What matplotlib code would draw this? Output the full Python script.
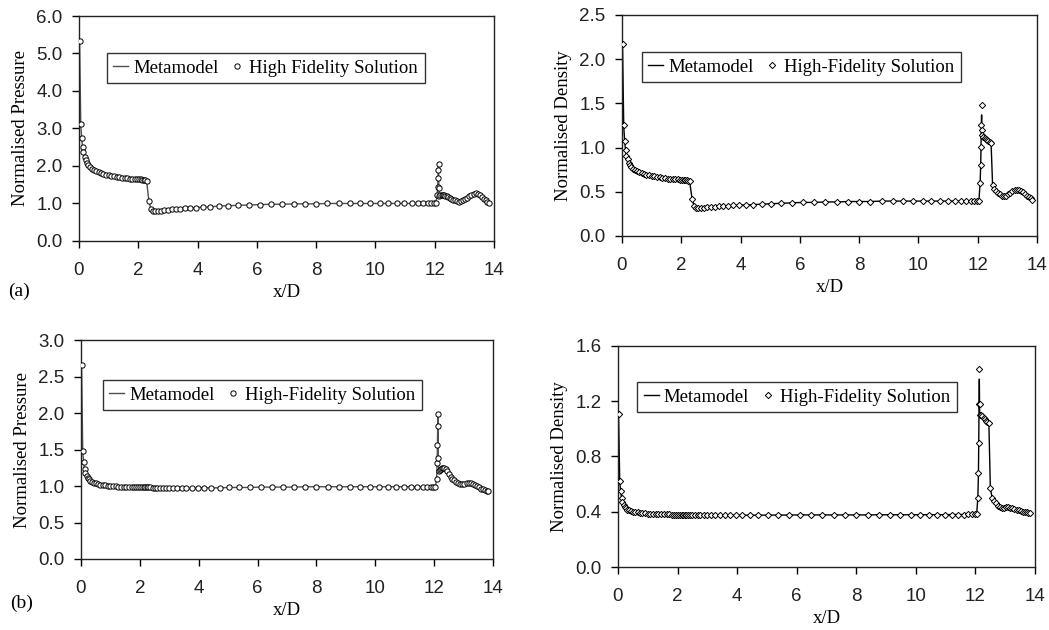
import matplotlib
matplotlib.use("Agg")
import matplotlib.pyplot as plt
import numpy as np
from matplotlib.ticker import FormatStrFormatter

# x/D stations (shared mesh for all four profiles)
xd = [0.02, 0.06, 0.09, 0.12, 0.15, 0.19, 0.23, 0.27, 0.32, 0.38,
      0.44, 0.51, 0.58, 0.66, 0.74, 0.82, 0.91, 1.00, 1.09, 1.18,
      1.27, 1.36, 1.45, 1.54, 1.63, 1.72, 1.80, 1.88, 1.95, 2.02,
      2.08, 2.14, 2.19, 2.24, 2.28,
      2.36, 2.43, 2.50, 2.58, 2.67, 2.77, 2.88, 3.00, 3.13, 3.27,
      3.42, 3.58, 3.76, 3.96, 4.18, 4.43, 4.71, 5.02, 5.36, 5.73,
      6.10, 6.48, 6.86, 7.24, 7.62, 8.00, 8.38, 8.76, 9.13, 9.48,
      9.82, 10.14, 10.44, 10.72, 10.98, 11.22, 11.43, 11.61, 11.76, 11.88,
      11.97, 12.04,
      12.08, 12.10, 12.11, 12.12, 12.13, 12.14, 12.16, 12.19, 12.23, 12.27,
      12.31, 12.35, 12.40, 12.45, 12.50, 12.56, 12.62, 12.68, 12.75, 12.82,
      12.89, 12.96, 13.03, 13.10, 13.17, 13.24, 13.31, 13.38, 13.45, 13.52,
      13.59, 13.66, 13.72, 13.78, 13.84]

# case (a) - pressure
pa_hf = [5.32, 3.12, 2.75, 2.50, 2.36, 2.25, 2.16, 2.09, 2.03, 1.97,
         1.93, 1.89, 1.86, 1.83, 1.80, 1.78, 1.76, 1.75, 1.73, 1.72,
         1.71, 1.70, 1.69, 1.68, 1.67, 1.66, 1.66, 1.65, 1.65, 1.64,
         1.64, 1.63, 1.63, 1.62, 1.61,
         1.06, 0.85, 0.80, 0.79, 0.80, 0.81, 0.82, 0.83, 0.84, 0.85,
         0.86, 0.87, 0.88, 0.89, 0.90, 0.91, 0.93, 0.94, 0.95, 0.96,
         0.97, 0.98, 0.98, 0.99, 0.99, 0.99, 1.00, 1.00, 1.00, 1.00,
         1.00, 1.00, 1.00, 1.00, 1.00, 1.00, 1.00, 1.00, 1.00, 1.00,
         1.00, 1.01,
         1.22, 1.45, 1.68, 1.90, 2.05, 1.40, 1.20, 1.22, 1.23, 1.23,
         1.22, 1.21, 1.19, 1.17, 1.15, 1.12, 1.10, 1.08, 1.06, 1.05,
         1.06, 1.08, 1.11, 1.15, 1.19, 1.23, 1.26, 1.27, 1.25, 1.22,
         1.18, 1.13, 1.08, 1.04, 1.00]
pa_mm = [5.30, 3.10, 2.74, 2.50, 2.36, 2.25, 2.16, 2.09, 2.03, 1.97,
         1.93, 1.89, 1.86, 1.83, 1.80, 1.78, 1.76, 1.75, 1.73, 1.72,
         1.71, 1.70, 1.69, 1.68, 1.67, 1.66, 1.66, 1.65, 1.65, 1.64,
         1.64, 1.63, 1.63, 1.62, 1.61,
         1.05, 0.85, 0.80, 0.79, 0.80, 0.81, 0.82, 0.83, 0.84, 0.85,
         0.86, 0.87, 0.88, 0.89, 0.90, 0.91, 0.93, 0.94, 0.95, 0.96,
         0.97, 0.98, 0.98, 0.99, 0.99, 0.99, 1.00, 1.00, 1.00, 1.00,
         1.00, 1.00, 1.00, 1.00, 1.00, 1.00, 1.00, 1.00, 1.00, 1.00,
         1.00, 1.01,
         1.20, 1.44, 1.67, 1.89, 2.03, 1.38, 1.19, 1.21, 1.22, 1.23,
         1.22, 1.21, 1.19, 1.17, 1.15, 1.12, 1.10, 1.08, 1.06, 1.05,
         1.06, 1.08, 1.11, 1.15, 1.19, 1.23, 1.26, 1.27, 1.25, 1.22,
         1.18, 1.13, 1.08, 1.04, 1.00]

# case (a) - density
da_hf = [2.17, 1.25, 1.08, 0.97, 0.91, 0.87, 0.83, 0.80, 0.78, 0.76,
         0.745, 0.73, 0.72, 0.71, 0.70, 0.69, 0.685, 0.68, 0.675, 0.67,
         0.665, 0.66, 0.655, 0.65, 0.65, 0.645, 0.64, 0.64, 0.635, 0.635,
         0.63, 0.63, 0.63, 0.625, 0.625,
         0.42, 0.34, 0.32, 0.315, 0.32, 0.32, 0.325, 0.33, 0.33, 0.335,
         0.34, 0.34, 0.345, 0.35, 0.35, 0.355, 0.36, 0.365, 0.37, 0.375,
         0.38, 0.38, 0.385, 0.385, 0.39, 0.39, 0.39, 0.395, 0.395, 0.395,
         0.395, 0.395, 0.395, 0.395, 0.395, 0.395, 0.395, 0.40, 0.40, 0.40,
         0.40, 0.40,
         0.60, 0.80, 1.01, 1.25, 1.48, 1.20, 1.14, 1.12, 1.11, 1.10,
         1.09, 1.08, 1.06, 1.05, 0.58, 0.53, 0.51, 0.49, 0.47, 0.455,
         0.45, 0.455, 0.47, 0.49, 0.505, 0.515, 0.52, 0.52, 0.51, 0.495,
         0.475, 0.455, 0.44, 0.425, 0.41]
da_mm = [2.15, 1.24, 1.08, 0.97, 0.91, 0.87, 0.83, 0.80, 0.78, 0.76,
         0.745, 0.73, 0.72, 0.71, 0.70, 0.69, 0.685, 0.68, 0.675, 0.67,
         0.665, 0.66, 0.655, 0.65, 0.65, 0.645, 0.64, 0.64, 0.635, 0.635,
         0.63, 0.63, 0.63, 0.625, 0.625,
         0.43, 0.34, 0.32, 0.315, 0.32, 0.32, 0.325, 0.33, 0.33, 0.335,
         0.34, 0.34, 0.345, 0.35, 0.35, 0.355, 0.36, 0.365, 0.37, 0.375,
         0.38, 0.38, 0.385, 0.385, 0.39, 0.39, 0.39, 0.395, 0.395, 0.395,
         0.395, 0.395, 0.395, 0.395, 0.395, 0.395, 0.395, 0.40, 0.40, 0.40,
         0.40, 0.40,
         0.60, 0.80, 1.01, 1.22, 1.37, 1.16, 1.13, 1.12, 1.11, 1.10,
         1.09, 1.08, 1.06, 1.05, 0.58, 0.53, 0.51, 0.49, 0.47, 0.455,
         0.45, 0.455, 0.47, 0.49, 0.505, 0.515, 0.52, 0.52, 0.51, 0.495,
         0.475, 0.455, 0.44, 0.425, 0.41]

# case (b) - pressure
pb_hf = [2.66, 1.48, 1.33, 1.23, 1.18, 1.14, 1.11, 1.09, 1.07, 1.055,
         1.045, 1.035, 1.03, 1.02, 1.015, 1.01, 1.005, 1.00, 1.00, 0.995,
         0.99, 0.99, 0.99, 0.99, 0.985, 0.985, 0.985, 0.98, 0.98, 0.98,
         0.98, 0.98, 0.98, 0.98, 0.98,
         0.98, 0.975, 0.975, 0.97, 0.97, 0.97, 0.97, 0.97, 0.97, 0.97,
         0.97, 0.97, 0.97, 0.975, 0.975, 0.975, 0.975, 0.98, 0.98, 0.98,
         0.985, 0.985, 0.985, 0.985, 0.99, 0.99, 0.99, 0.99, 0.99, 0.99,
         0.99, 0.99, 0.99, 0.99, 0.99, 0.99, 0.99, 0.99, 0.99, 0.99,
         0.99, 0.99,
         1.09, 1.32, 1.56, 1.82, 1.98, 1.38, 1.20, 1.22, 1.23, 1.24,
         1.24, 1.24, 1.23, 1.21, 1.17, 1.13, 1.10, 1.08, 1.06, 1.04,
         1.03, 1.025, 1.03, 1.04, 1.04, 1.035, 1.025, 1.01, 0.995, 0.98,
         0.965, 0.955, 0.945, 0.935, 0.93]
pb_mm = [2.64, 1.47, 1.33, 1.23, 1.18, 1.14, 1.11, 1.09, 1.07, 1.055,
         1.045, 1.035, 1.03, 1.02, 1.015, 1.01, 1.005, 1.00, 1.00, 0.995,
         0.99, 0.99, 0.99, 0.99, 0.985, 0.985, 0.985, 0.98, 0.98, 0.98,
         0.98, 0.98, 0.98, 0.98, 0.98,
         0.98, 0.975, 0.975, 0.97, 0.97, 0.97, 0.97, 0.97, 0.97, 0.97,
         0.97, 0.97, 0.97, 0.975, 0.975, 0.975, 0.975, 0.98, 0.98, 0.98,
         0.985, 0.985, 0.985, 0.985, 0.99, 0.99, 0.99, 0.99, 0.99, 0.99,
         0.99, 0.99, 0.99, 0.99, 0.99, 0.99, 0.99, 0.99, 0.99, 0.99,
         0.99, 0.99,
         1.08, 1.31, 1.55, 1.81, 1.96, 1.36, 1.19, 1.21, 1.23, 1.24,
         1.24, 1.24, 1.23, 1.21, 1.17, 1.13, 1.10, 1.08, 1.06, 1.04,
         1.03, 1.025, 1.03, 1.04, 1.04, 1.035, 1.025, 1.01, 0.995, 0.98,
         0.965, 0.955, 0.945, 0.935, 0.93]

# case (b) - density
db_hf = [1.11, 0.62, 0.55, 0.50, 0.47, 0.45, 0.435, 0.425, 0.415, 0.41,
         0.405, 0.40, 0.397, 0.395, 0.393, 0.39, 0.388, 0.387, 0.386, 0.385,
         0.384, 0.383, 0.382, 0.382, 0.381, 0.381, 0.38, 0.38, 0.38, 0.379,
         0.379, 0.378, 0.378, 0.378, 0.377,
         0.377, 0.376, 0.375, 0.374, 0.373, 0.373, 0.373, 0.373, 0.374, 0.374,
         0.374, 0.375, 0.375, 0.375, 0.375, 0.375, 0.375, 0.376, 0.376, 0.376,
         0.377, 0.377, 0.377, 0.377, 0.377, 0.377, 0.377, 0.378, 0.378, 0.378,
         0.378, 0.378, 0.379, 0.379, 0.379, 0.380, 0.380, 0.380, 0.381, 0.381,
         0.381, 0.382,
         0.50, 0.68, 0.90, 1.18, 1.43, 1.18, 1.10, 1.10, 1.09, 1.08,
         1.07, 1.06, 1.05, 1.04, 0.57, 0.50, 0.48, 0.46, 0.445, 0.435,
         0.43, 0.43, 0.435, 0.435, 0.43, 0.425, 0.42, 0.415, 0.41, 0.405,
         0.40, 0.40, 0.395, 0.39, 0.39]
db_mm = [1.10, 0.61, 0.55, 0.50, 0.47, 0.45, 0.435, 0.425, 0.415, 0.41,
         0.405, 0.40, 0.397, 0.395, 0.393, 0.39, 0.388, 0.387, 0.386, 0.385,
         0.384, 0.383, 0.382, 0.382, 0.381, 0.381, 0.38, 0.38, 0.38, 0.379,
         0.379, 0.378, 0.378, 0.378, 0.377,
         0.377, 0.376, 0.375, 0.374, 0.373, 0.373, 0.373, 0.373, 0.374, 0.374,
         0.374, 0.375, 0.375, 0.375, 0.375, 0.375, 0.375, 0.376, 0.376, 0.376,
         0.377, 0.377, 0.377, 0.377, 0.377, 0.377, 0.377, 0.378, 0.378, 0.378,
         0.378, 0.378, 0.379, 0.379, 0.379, 0.380, 0.380, 0.380, 0.381, 0.381,
         0.381, 0.382,
         0.50, 0.68, 0.90, 1.16, 1.36, 1.12, 1.10, 1.10, 1.09, 1.08,
         1.07, 1.06, 1.05, 1.04, 0.57, 0.50, 0.48, 0.46, 0.445, 0.435,
         0.43, 0.43, 0.435, 0.435, 0.43, 0.425, 0.42, 0.415, 0.41, 0.405,
         0.40, 0.40, 0.395, 0.39, 0.39]

xticks = [0, 2, 4, 6, 8, 10, 12, 14]

serif = "Liberation Serif"
sans = "Liberation Sans"

fig = plt.figure(figsize=(10.49, 6.3), dpi=100)

panels = [
    # rect, mm, hf, ylabel, ymax, ystep, marker, hf label, legend anchor, line colour
    ([0.0753, 0.6175, 0.3956, 0.3571], pa_mm, pa_hf, "Normalised Pressure", 6.0, 1.0, "o",
     "High Fidelity Solution", (0.067, 0.836), "#505050"),
    ([0.5929, 0.6254, 0.3957, 0.3508], da_mm, da_hf, "Normalised Density", 2.5, 0.5, "D",
     "High-Fidelity Solution", (0.048, 0.833), "black"),
    ([0.0772, 0.1127, 0.3928, 0.3476], pb_mm, pb_hf, "Normalised Pressure", 3.0, 0.5, "o",
     "High-Fidelity Solution", (0.053, 0.817), "#505050"),
    ([0.5891, 0.1000, 0.3976, 0.3508], db_mm, db_hf, "Normalised Density", 1.6, 0.4, "D",
     "High-Fidelity Solution", (0.046, 0.837), "black"),
]

for rect, mm, hf, ylab, ymax, ystep, mk, hflab, anchor, lc in panels:
    ax = fig.add_axes(rect)
    ax.plot(xd, mm, color=lc, lw=1.0, label="Metamodel", zorder=2)
    ms = 3.8 if mk == "o" else 3.2
    ax.plot(xd, hf, ls="none", marker=mk, ms=ms, mfc="white", mec="black",
            mew=0.7, label=hflab, zorder=3)
    ax.set_xlim(0, 14)
    ax.set_ylim(0, ymax)
    ax.set_xticks(xticks)
    ax.set_yticks(np.arange(0, ymax + ystep / 2, ystep))
    ax.yaxis.set_major_formatter(FormatStrFormatter("%.1f"))
    ax.tick_params(direction="out", length=5, width=1, labelsize=13.5)
    ax.tick_params(axis="x", pad=10)
    ax.tick_params(axis="y", pad=7)
    for lab in ax.get_xticklabels() + ax.get_yticklabels():
        lab.set_fontfamily(sans)
        lab.set_color("#222222")
    for sp in ax.spines.values():
        sp.set_linewidth(1.0)
        sp.set_color("#222222")
    ax.set_xlabel("x/D", fontfamily=serif, fontsize=13.5, labelpad=4)
    ax.set_ylabel(ylab, fontfamily=serif, fontsize=13.5, labelpad=5)
    leg = ax.legend(loc="upper left", bbox_to_anchor=anchor, ncol=2,
                    prop={"family": serif, "size": 13.5}, frameon=True,
                    fancybox=False, edgecolor="black", handlelength=0.8,
                    handletextpad=0.25, columnspacing=0.6, borderpad=0.35,
                    borderaxespad=0.0)
    leg.get_frame().set_linewidth(1.0)

fig.text(0.008, 0.537, "(a)", fontfamily=serif, fontsize=14, va="center")
fig.text(0.010, 0.043, "(b)", fontfamily=serif, fontsize=14, va="center")

fig.savefig("out.png", dpi=100)
